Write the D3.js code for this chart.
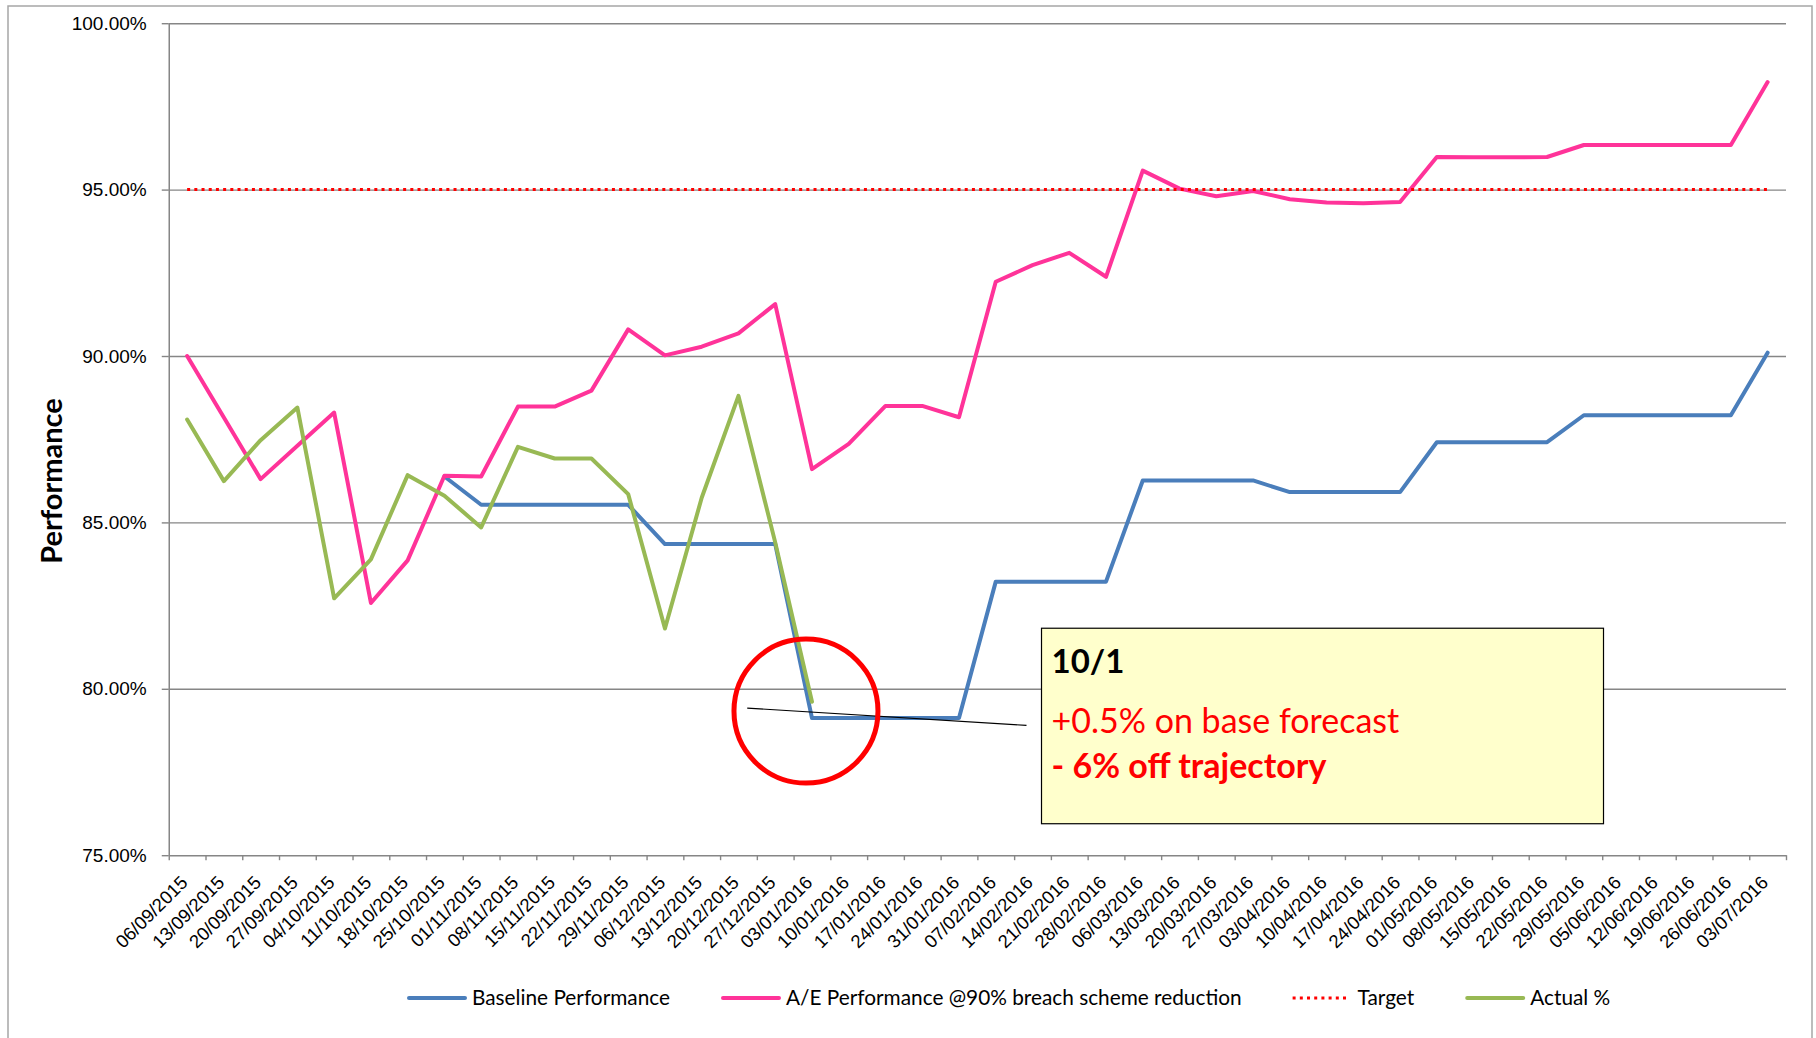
<!DOCTYPE html>
<html>
<head>
<meta charset="utf-8">
<script src="https://cdn.jsdelivr.net/npm/d3@7"></script>
<style>
  body { margin: 0; background: #fff; }
  svg { display: block; font-family: Lato, "Open Sans", sans-serif; }
</style>
</head>
<body>
<svg id="chart" width="1816" height="1038"></svg>
<script>
const categories = [
  "06/09/2015", "13/09/2015", "20/09/2015", "27/09/2015", "04/10/2015", "11/10/2015",
  "18/10/2015", "25/10/2015", "01/11/2015", "08/11/2015", "15/11/2015", "22/11/2015",
  "29/11/2015", "06/12/2015", "13/12/2015", "20/12/2015", "27/12/2015", "03/01/2016",
  "10/01/2016", "17/01/2016", "24/01/2016", "31/01/2016", "07/02/2016", "14/02/2016",
  "21/02/2016", "28/02/2016", "06/03/2016", "13/03/2016", "20/03/2016", "27/03/2016",
  "03/04/2016", "10/04/2016", "17/04/2016", "24/04/2016", "01/05/2016", "08/05/2016",
  "15/05/2016", "22/05/2016", "29/05/2016", "05/06/2016", "12/06/2016", "19/06/2016",
  "26/06/2016", "03/07/2016"
];

const baseline = [
  null, null, null, null, null, null, null, 86.38, 85.53, 85.53, 85.53, 85.53,
  85.53, 84.35, 84.35, 84.35, 84.35, 79.12, 79.12, 79.12, 79.12, 79.12, 83.22, 83.22,
  83.22, 83.22, 86.26, 86.26, 86.26, 86.26, 85.91, 85.91, 85.91, 85.91, 87.41, 87.41,
  87.41, 87.41, 88.22, 88.22, 88.22, 88.22, 88.22, 90.10
];

const aePerformance = [
  90.00, 88.15, 86.30, 87.30, 88.30, 82.58, 83.86, 86.40, 86.38, 88.48, 88.48, 88.96,
  90.80, 90.02, 90.28, 90.68, 91.56, 86.60, 87.36, 88.50, 88.50, 88.16, 92.23, 92.73,
  93.10, 92.38, 95.57, 95.03, 94.80, 94.96, 94.71, 94.61, 94.59, 94.63, 95.98, 95.97,
  95.97, 95.98, 96.34, 96.34, 96.34, 96.34, 96.34, 98.23
];

const target = [
  95, 95, 95, 95, 95, 95, 95, 95, 95, 95, 95, 95, 95, 95, 95, 95, 95, 95, 95, 95, 95, 95,
  95, 95, 95, 95, 95, 95, 95, 95, 95, 95, 95, 95, 95, 95, 95, 95, 95, 95, 95, 95, 95, 95
];

const actual = [
  88.09, 86.24, 87.47, 88.45, 82.72, 83.89, 86.42, 85.80, 84.85, 87.27, 86.92, 86.92,
  85.85, 81.81, 85.74, 88.80, 84.40, 79.61, null, null, null, null, null, null,
  null, null, null, null, null, null, null, null, null, null, null, null,
  null, null, null, null, null, null, null, null
];

const yTicks = [75, 80, 85, 90, 95, 100];

const series = [
  {name: "Baseline Performance", values: baseline, color: "#4A7EBB", dash: null},
  {name: "A/E Performance @90% breach scheme reduction", values: aePerformance, color: "#FF3399", dash: null},
  {name: "Target", values: target, color: "#FF0000", dash: "3,4.2"},
  {name: "Actual %", values: actual, color: "#98B954", dash: null}
];

const svg = d3.select("#chart");
const margin = {top: 23.2, right: 30, bottom: 182.8, left: 168.75};
const width = 1816 - margin.left - margin.right;
const height = 1038 - margin.top - margin.bottom;

// chart area border (bottom edge falls outside the picture)
svg.append("rect")
    .attr("x", 8).attr("y", 6)
    .attr("width", 1804).attr("height", 1060)
    .attr("fill", "none")
    .attr("stroke", "#a6a6a6")
    .attr("stroke-width", 1.5);

const g = svg.append("g")
    .attr("transform", "translate(" + margin.left + "," + margin.top + ")");

const x = d3.scaleBand().domain(categories).range([0, width]);
const xEdge = d3.scaleLinear().domain([0, categories.length]).range([0, width]);
const y = d3.scaleLinear().domain([75, 100]).range([height, 0]);
const px = function(i) { return x(categories[i]) + x.bandwidth() / 2; };

// gridlines
const grid = g.append("g")
    .call(d3.axisLeft(y).tickValues(yTicks.slice(1)).tickSize(-width).tickFormat(""));
grid.select(".domain").remove();
grid.selectAll("line").attr("stroke", "#868686").attr("stroke-width", 1.4);

// y axis
const yAxis = g.append("g")
    .call(d3.axisLeft(y).tickValues(yTicks).tickSize(7).tickSizeOuter(0).tickPadding(15)
      .tickFormat(function(d) { return d.toFixed(2) + "%"; }));
yAxis.select(".domain").attr("stroke", "#868686").attr("stroke-width", 1.5);
yAxis.selectAll("line").attr("stroke", "#868686").attr("stroke-width", 1.4);
yAxis.selectAll("text").style("font-size", "19px").attr("fill", "#000");

// x axis ticks at category edges
const xTicks = g.append("g")
    .attr("transform", "translate(0," + height + ")")
    .call(d3.axisBottom(xEdge).tickValues(d3.range(categories.length + 1))
      .tickSize(5).tickSizeOuter(0).tickFormat(""));
xTicks.select(".domain").attr("stroke", "#868686").attr("stroke-width", 1.5);
xTicks.selectAll("line").attr("stroke", "#868686").attr("stroke-width", 1.4);

// x labels
const xLabels = g.append("g")
    .attr("transform", "translate(0," + height + ")")
    .call(d3.axisBottom(x).tickSize(0).tickPadding(0));
xLabels.select(".domain").remove();
xLabels.selectAll("text")
    .attr("x", 0).attr("y", 0).attr("dy", "0.35em")
    .attr("text-anchor", "end")
    .attr("transform", "translate(-3,24) rotate(-45)")
    .style("font-size", "18.5px")
    .attr("fill", "#000");

// y title
svg.append("text")
    .attr("transform", "translate(62,481) rotate(-90)")
    .attr("text-anchor", "middle")
    .style("font-size", "29px")
    .style("font-weight", "bold")
    .text("Performance");

// series lines
const line = d3.line()
    .defined(function(d) { return d != null; })
    .x(function(d, i) { return px(i); })
    .y(function(d) { return y(d); });

g.selectAll(".series")
    .data(series)
  .enter().append("path")
    .attr("class", "series")
    .attr("d", function(d) { return line(d.values); })
    .attr("fill", "none")
    .attr("stroke", function(d) { return d.color; })
    .attr("stroke-width", function(d) { return d.dash ? 3 : 4; })
    .attr("stroke-dasharray", function(d) { return d.dash; })
    .attr("stroke-linejoin", "round")
    .attr("stroke-linecap", function(d) { return d.dash ? "butt" : "round"; });

// callout
const note = g.append("g");
note.append("line")
    .attr("x1", px(16) - 28).attr("y1", y(79.42))
    .attr("x2", px(23) - 6).attr("y2", y(78.9))
    .attr("stroke", "#000").attr("stroke-width", 1.2);
note.append("ellipse")
    .attr("cx", px(17) - 6).attr("cy", y(79.33))
    .attr("rx", 72).attr("ry", 72)
    .attr("fill", "none").attr("stroke", "#FF0000").attr("stroke-width", 5);

const boxX = px(23) + 9, boxY = y(81.82);
note.append("rect")
    .attr("x", boxX).attr("y", boxY)
    .attr("width", 562).attr("height", 195.5)
    .attr("fill", "#FFFFCC").attr("stroke", "#000").attr("stroke-width", 1.2);
note.append("text")
    .attr("x", boxX + 10).attr("y", boxY + 44.5)
    .style("font-size", "33px").style("font-weight", "bold").attr("fill", "#000")
    .text("10/1");
note.append("text")
    .attr("x", boxX + 10).attr("y", boxY + 104.5)
    .style("font-size", "34px").attr("fill", "#FF0000")
    .text("+0.5% on base forecast");
note.append("text")
    .attr("x", boxX + 10).attr("y", boxY + 149.5)
    .style("font-size", "34px").style("font-weight", "bold").attr("fill", "#FF0000")
    .text("- 6% off trajectory");

// legend
const legend = svg.append("g").attr("transform", "translate(407,998)");
let offset = 0;
series.forEach(function(s) {
  const item = legend.append("g").attr("transform", "translate(" + offset + ",0)");
  item.append("line")
      .attr("x1", s.dash ? 0 : 2).attr("x2", s.dash ? 56 : 58)
      .attr("y1", 0).attr("y2", 0)
      .attr("stroke", s.color)
      .attr("stroke-width", s.dash ? 3 : 4)
      .attr("stroke-dasharray", s.dash)
      .attr("stroke-linecap", s.dash ? "butt" : "round");
  const t = item.append("text")
      .attr("x", 65).attr("dy", "0.35em")
      .style("font-size", "20.8px")
      .attr("fill", "#000")
      .text(s.name);
  offset += 65 + t.node().getComputedTextLength() + 51;
});
</script>
</body>
</html>
